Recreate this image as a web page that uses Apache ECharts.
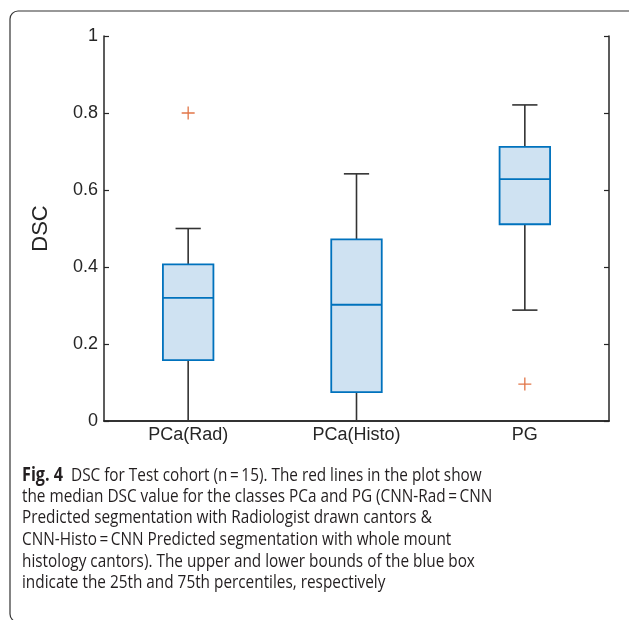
<!DOCTYPE html>
<html>
<head>
<meta charset="utf-8">
<script src="https://cdn.jsdelivr.net/npm/echarts@6/dist/echarts.min.js"></script>
<style>
html,body{margin:0;padding:0;background:#fff;}
#chart{width:629px;height:620px;}
</style>
</head>
<body>
<div id="chart"></div>
<script>
const categories = ['PCa(Rad)', 'PCa(Histo)', 'PG'];
const whiskerLow = [0, 0, 0.288];
const q1 = [0.158, 0.075, 0.511];
const median = [0.320, 0.302, 0.628];
const q3 = [0.407, 0.472, 0.712];
const whiskerHigh = [0.500, 0.642, 0.821];
const outliers = [['PCa(Rad)', 0.800], ['PG', 0.096]];

const boxData = categories.map((c, i) => [i, whiskerLow[i], q1[i], median[i], q3[i], whiskerHigh[i]]);

const chart = echarts.init(document.getElementById('chart'), null, {renderer: 'canvas'});
const axisColor = '#262626';
const labelColor = '#262626';
const boxBlue = '#0072BD';
const boxFill = '#cfe2f2';
const tickFont = 'Liberation Sans, Arial, sans-serif';

const captionLines = [
  '{b|Fig. 4}  DSC for Test cohort (n\u2009=\u200915). The red lines in the plot show',
  'the median DSC value for the classes PCa and PG (CNN-Rad\u2009=\u2009CNN',
  'Predicted segmentation with Radiologist drawn cantors &',
  'CNN-Histo\u2009=\u2009CNN Predicted segmentation with whole mount',
  'histology cantors). The upper and lower bounds of the blue box',
  'indicate the 25th and 75th percentiles, respectively'
];

const graphics = [{
  type: 'rect', x: 10, y: 11, z: -1,
  shape: {width: 640, height: 611, r: 8},
  style: {fill: 'none', stroke: '#333', lineWidth: 1.2}
}];
captionLines.forEach((t, i) => {
  graphics.push({
    type: 'text', x: 22, y: 466 + i * 21.6, scaleX: 0.852, originX: 0,
    style: {
      text: t,
      font: '18px "Open Sans", sans-serif',
      fill: '#231f20',
      rich: {b: {fontWeight: 'bold', fontSize: 19, fontFamily: '"Open Sans", sans-serif', fill: '#231f20'}}
    }
  });
});

chart.setOption({
  animation: false,
  backgroundColor: '#fff',
  grid: {left: 104, top: 36, right: 20, bottom: 199},
  graphic: graphics,
  xAxis: [{
    type: 'category', data: categories, position: 'bottom',
    boundaryGap: true,
    axisLine: {lineStyle: {color: axisColor, width: 1.5}},
    axisTick: {inside: true, alignWithLabel: true, length: 5, lineStyle: {color: axisColor, width: 1.2}},
    axisLabel: {color: labelColor, fontSize: 18, fontFamily: tickFont, margin: 5},
    splitLine: {show: false}
  }, {
    type: 'category', data: categories, position: 'top',
    boundaryGap: true,
    axisLine: {lineStyle: {color: axisColor, width: 1.5}},
    axisTick: {inside: true, alignWithLabel: true, length: 5, lineStyle: {color: axisColor, width: 1.2}},
    axisLabel: {show: false},
    splitLine: {show: false}
  }],
  yAxis: [{
    type: 'value', min: 0, max: 1, interval: 0.2, position: 'left',
    name: 'DSC', nameLocation: 'middle', nameGap: 52, nameRotate: 90,
    nameTextStyle: {color: labelColor, fontSize: 22, fontFamily: tickFont},
    axisLine: {show: true, lineStyle: {color: axisColor, width: 1.5}},
    axisTick: {show: true, inside: true, length: 5, lineStyle: {color: axisColor, width: 1.2}},
    axisLabel: {color: labelColor, fontSize: 18, fontFamily: tickFont, margin: 6,
      formatter: v => String(+v.toFixed(1))},
    splitLine: {show: false}
  }, {
    type: 'value', min: 0, max: 1, interval: 0.2, position: 'right',
    axisLine: {show: true, lineStyle: {color: axisColor, width: 1.5}},
    axisTick: {show: true, inside: true, length: 5, lineStyle: {color: axisColor, width: 1.2}},
    axisLabel: {show: false},
    splitLine: {show: false}
  }],
  series: [{
    type: 'custom',
    xAxisIndex: 0, yAxisIndex: 0,
    data: boxData,
    encode: {x: 0, y: [1, 2, 3, 4, 5]},
    renderItem: function (params, api) {
      const x = api.value(0);
      const pLow = api.coord([x, api.value(1)]);
      const pQ1 = api.coord([x, api.value(2)]);
      const pMed = api.coord([x, api.value(3)]);
      const pQ3 = api.coord([x, api.value(4)]);
      const pHigh = api.coord([x, api.value(5)]);
      const band = api.size([1, 0])[0];
      const bw = band * 0.30;
      const cw = band * 0.15;
      const cx = pMed[0];
      const lineStyle = {stroke: '#333', lineWidth: 1.6, fill: null};
      return {
        type: 'group',
        children: [
          {type: 'line', shape: {x1: cx, y1: pQ3[1], x2: cx, y2: pHigh[1]}, style: lineStyle},
          {type: 'line', shape: {x1: cx, y1: pLow[1], x2: cx, y2: pQ1[1]}, style: lineStyle},
          {type: 'line', shape: {x1: cx - cw / 2, y1: pHigh[1], x2: cx + cw / 2, y2: pHigh[1]}, style: lineStyle},
          {type: 'line', shape: {x1: cx - cw / 2, y1: pLow[1], x2: cx + cw / 2, y2: pLow[1]}, style: lineStyle},
          {type: 'rect', shape: {x: cx - bw / 2, y: pQ3[1], width: bw, height: pQ1[1] - pQ3[1]},
            style: {fill: boxFill, stroke: boxBlue, lineWidth: 1.8}},
          {type: 'line', shape: {x1: cx - bw / 2, y1: pMed[1], x2: cx + bw / 2, y2: pMed[1]},
            style: {stroke: boxBlue, lineWidth: 1.8}}
        ]
      };
    },
    z: 2
  }, {
    type: 'scatter',
    xAxisIndex: 0, yAxisIndex: 0,
    data: outliers,
    symbol: 'path://M9,0h2v20h-2zM0,9h20v2h-20z',
    symbolSize: 13,
    itemStyle: {color: '#D95319'},
    z: 3
  }]
});
</script>
</body>
</html>
